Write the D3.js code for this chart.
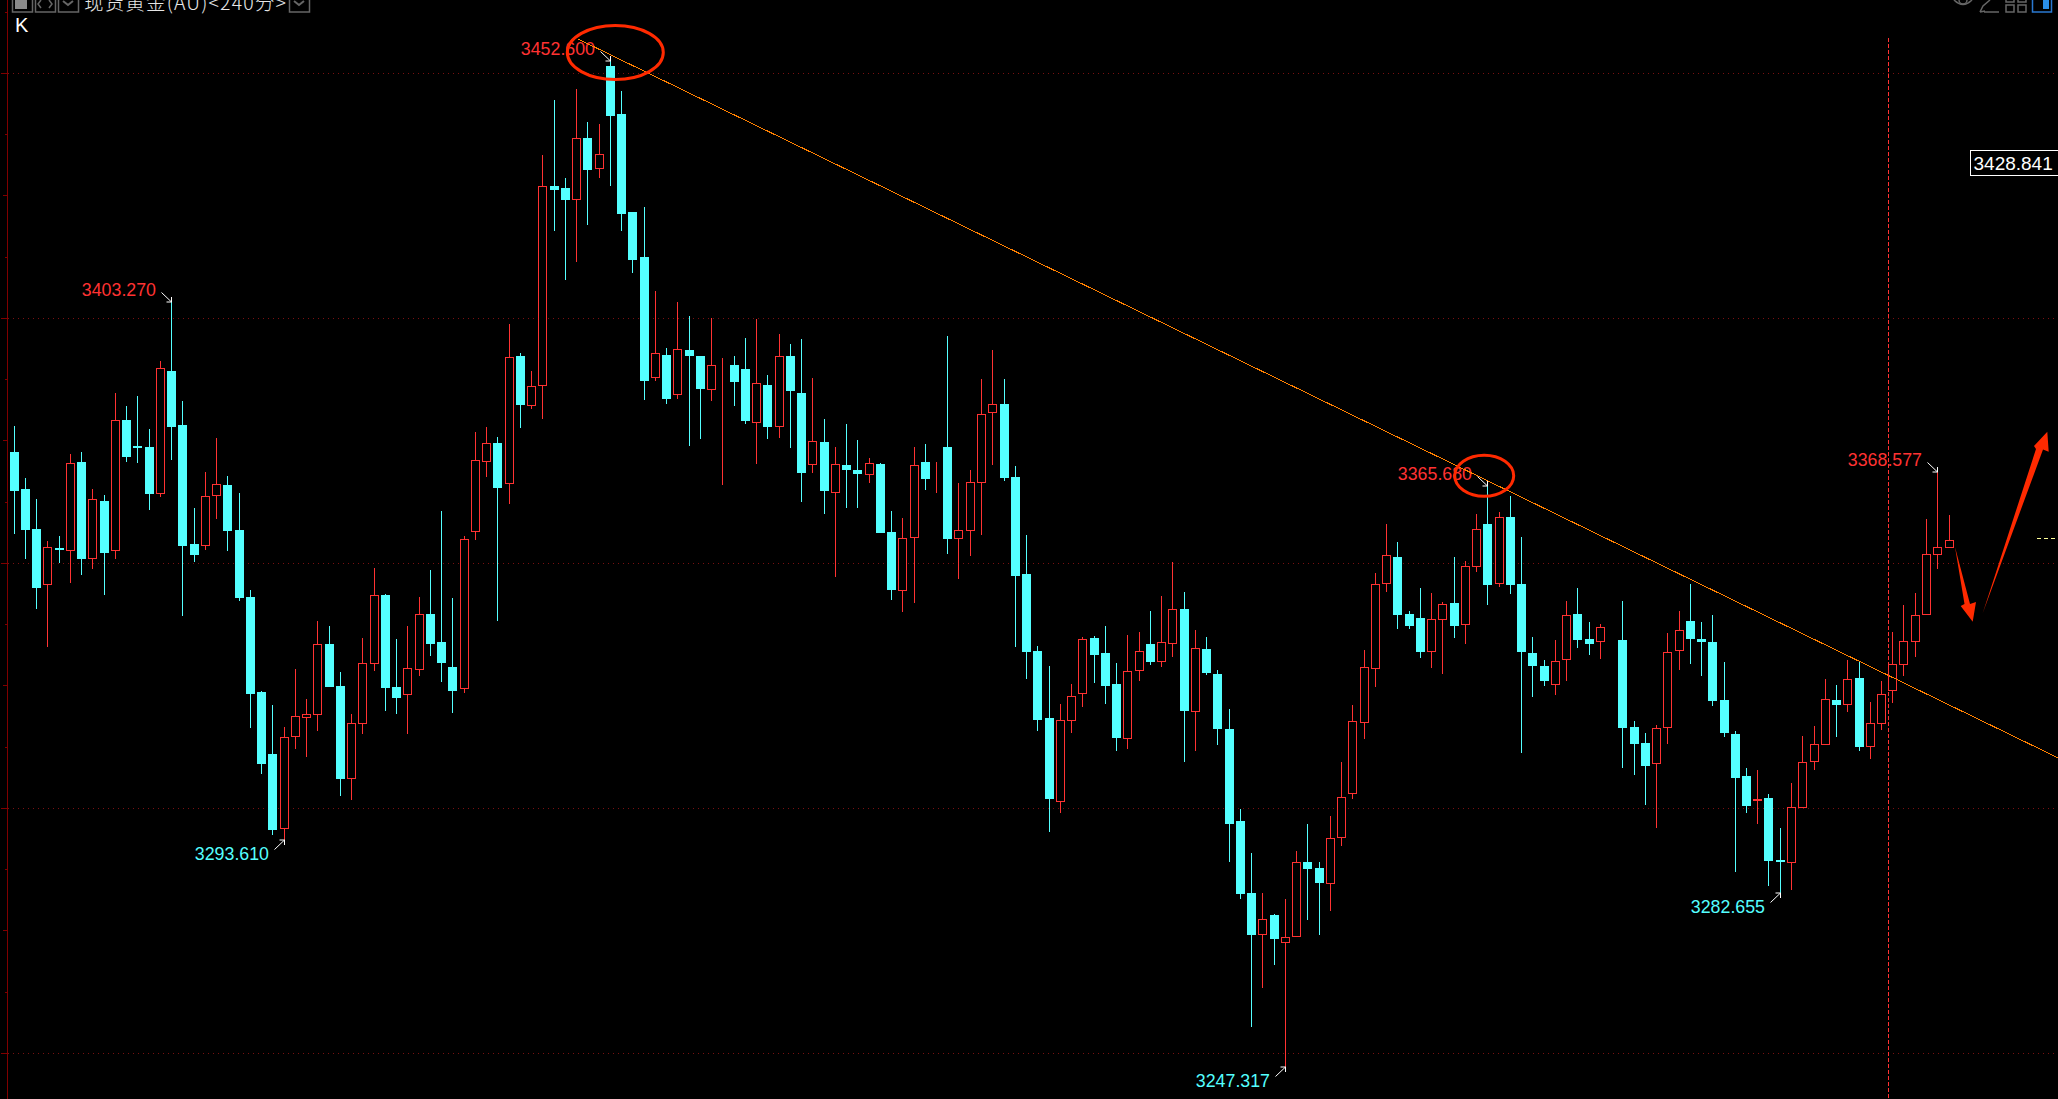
<!DOCTYPE html>
<html lang="zh">
<head>
<meta charset="UTF-8">
<title>现货黄金(AU) 240分</title>
<script src="https://d3js.org/d3.v7.min.js"></script>
<style>
    html, body { margin: 0; padding: 0; background: #000; overflow: hidden; }
    svg { display: block; }
    .mark-label { font-family: "Liberation Sans", Arial, sans-serif; font-size: 17.8px; }
</style>
</head>
<body>
<svg id="chart" width="2058" height="1099"></svg>
<script>
// candles, index 0..172
const opens = [
    3372.7,3365.2,3357.0,3345.6,3353.1,3352.5,3370.7,3350.9,3362.7,3352.5,
    3379.2,3373.9,3373.7,3364.1,3389.2,3378.2,3353.9,3353.5,3363.7,3366.0,
    3356.8,3343.1,3323.7,3311.1,3295.8,3314.6,3318.4,3319.0,3333.5,3325.0,
    3306.0,3317.2,3329.4,3343.5,3324.8,3323.1,3328.2,3339.7,3333.9,3328.8,
    3324.3,3356.4,3370.7,3374.6,3366.2,3392.3,3382.1,3386.2,3427.0,3426.6,
    3424.1,3436.8,3430.5,3451.5,3441.7,3421.7,3412.5,3387.8,3392.5,3384.3,
    3393.5,3392.3,3385.4,3390.3,3390.5,3389.7,3378.6,3386.4,3377.8,3392.3,
    3384.8,3370.1,3374.8,3364.3,3370.1,3369.0,3368.0,3370.3,3356.4,3344.3,
    3355.2,3370.7,3367.6,3373.7,3355.0,3356.6,3366.4,3380.7,3382.5,3367.6,
    3347.8,3332.1,3318.4,3301.3,3317.8,3323.3,3334.8,3331.7,3325.4,3314.1,
    3328.0,3333.5,3329.9,3333.5,3340.7,3319.7,3332.5,3327.4,3316.2,3297.4,
    3282.7,3274.1,3278.2,3272.5,3273.7,3289.0,3287.8,3284.6,3293.9,3302.9,
    3317.4,3328.4,3345.8,3351.3,3339.7,3338.8,3331.9,3338.4,3341.9,3337.4,
    3349.3,3358.0,3345.8,3359.5,3345.8,3331.7,3329.0,3325.2,3330.3,3339.7,
    3334.6,3333.9,3337.0,3334.3,3316.6,3313.3,3309.0,3316.4,3332.1,3338.2,
    3334.6,3333.9,3322.1,3315.2,3306.6,3301.5,3302.1,3289.5,3288.8,3300.1,
    3309.5,3312.9,3322.1,3321.1,3326.6,3312.5,3317.2,3323.9,3329.2,3333.9,
    3339.4,3351.7,3353.1
];
const closes = [
    3364.8,3356.8,3345.0,3353.3,3352.7,3370.5,3350.9,3363.1,3352.1,3379.2,
    3371.7,3373.5,3364.1,3389.9,3377.8,3353.5,3351.7,3363.7,3366.2,3356.6,
    3342.9,3323.3,3309.0,3295.6,3314.6,3318.8,3319.2,3333.5,3324.8,3306.0,
    3317.4,3329.7,3343.5,3324.6,3322.5,3328.6,3339.7,3333.5,3329.7,3323.9,
    3355.0,3371.1,3374.6,3365.4,3392.1,3382.3,3386.2,3427.0,3426.2,3424.1,
    3436.8,3430.3,3433.5,3441.3,3421.3,3411.9,3387.2,3392.9,3383.5,3393.7,
    3392.3,3385.6,3390.5,3390.3,3387.0,3379.0,3386.8,3377.8,3392.3,3385.2,
    3368.4,3375.0,3364.8,3370.3,3369.0,3368.2,3370.5,3356.2,3344.6,3355.2,
    3370.1,3367.2,3367.6,3355.0,3356.8,3366.6,3380.5,3382.5,3367.4,3347.4,
    3331.9,3318.0,3301.9,3318.0,3322.9,3334.6,3331.3,3325.0,3314.3,3328.0,
    3332.1,3329.9,3333.9,3340.7,3319.9,3332.7,3327.6,3316.2,3296.8,3282.5,
    3274.1,3277.4,3273.3,3273.7,3289.0,3287.6,3284.8,3293.9,3302.3,3317.8,
    3328.8,3345.8,3351.7,3339.4,3337.2,3331.9,3338.6,3341.7,3337.2,3349.5,
    3357.0,3345.6,3359.5,3345.6,3331.9,3329.0,3326.0,3330.1,3339.4,3334.3,
    3333.5,3337.0,3337.0,3316.4,3313.1,3308.6,3316.4,3331.9,3336.4,3334.6,
    3333.9,3321.9,3315.4,3306.2,3300.5,3301.9,3289.2,3289.0,3300.3,3309.5,
    3313.1,3322.3,3321.1,3326.4,3312.5,3317.4,3323.3,3329.4,3334.1,3339.4,
    3351.9,3353.3,3354.8
];
const highs = [
    3378.0,3367.4,3363.1,3354.6,3355.6,3372.3,3372.7,3365.2,3363.9,3384.8,
    3382.1,3384.1,3377.4,3391.3,3403.3,3383.1,3361.3,3368.6,3375.6,3367.8,
    3364.3,3344.6,3323.9,3321.1,3316.6,3328.4,3322.3,3338.2,3337.2,3327.8,
    3319.2,3334.8,3349.0,3343.7,3334.6,3337.2,3343.1,3348.6,3360.7,3342.9,
    3355.6,3376.8,3377.8,3375.8,3398.8,3392.9,3389.2,3433.3,3444.6,3428.6,
    3446.8,3440.1,3439.7,3452.6,3446.4,3421.7,3422.7,3405.6,3393.9,3403.3,
    3400.5,3392.3,3400.1,3391.9,3392.3,3396.0,3399.9,3388.4,3396.8,3394.8,
    3395.8,3387.8,3379.5,3373.7,3378.4,3375.2,3371.5,3370.5,3360.7,3359.2,
    3373.7,3374.3,3370.7,3396.4,3366.4,3369.0,3387.6,3393.5,3387.6,3369.9,
    3355.8,3333.1,3329.0,3321.3,3325.4,3335.0,3335.2,3337.2,3329.7,3335.4,
    3336.0,3340.3,3343.3,3350.3,3344.1,3336.4,3335.0,3328.2,3320.3,3299.9,
    3290.9,3282.7,3278.4,3281.5,3291.3,3296.8,3289.0,3298.4,3309.5,3321.1,
    3332.3,3348.0,3358.0,3354.3,3340.3,3345.0,3343.9,3342.1,3351.3,3350.5,
    3360.1,3365.7,3360.5,3363.7,3355.4,3335.0,3330.3,3334.3,3342.3,3345.0,
    3338.0,3337.6,3337.0,3342.3,3317.8,3315.4,3317.0,3335.8,3340.3,3345.8,
    3338.0,3339.4,3329.9,3315.8,3308.2,3307.8,3302.9,3296.0,3305.2,3314.8,
    3316.8,3326.4,3325.2,3330.3,3330.1,3321.7,3326.0,3336.0,3341.5,3343.9,
    3359.0,3368.6,3359.9
];
const lows = [
    3356.0,3350.9,3340.7,3332.9,3350.1,3346.0,3347.6,3348.8,3343.5,3350.9,
    3370.7,3370.5,3360.9,3363.5,3371.1,3339.2,3350.3,3352.7,3359.0,3352.5,
    3342.3,3316.4,3307.0,3294.6,3293.6,3312.1,3310.5,3315.8,3324.8,3302.5,
    3301.7,3315.2,3328.0,3319.9,3319.2,3315.2,3327.0,3331.1,3325.8,3319.4,
    3323.5,3354.8,3367.6,3338.2,3362.1,3377.6,3381.5,3379.5,3417.8,3407.8,
    3411.5,3419.0,3428.6,3427.0,3417.8,3409.2,3383.3,3387.2,3382.5,3383.5,
    3373.9,3375.4,3383.1,3366.0,3382.1,3378.4,3370.3,3375.4,3375.6,3373.5,
    3362.5,3368.4,3360.1,3347.2,3361.3,3361.3,3366.4,3356.2,3342.5,3340.1,
    3341.9,3365.0,3364.3,3351.9,3346.8,3351.5,3355.8,3370.1,3366.8,3332.9,
    3326.4,3315.8,3295.2,3299.0,3315.4,3320.7,3325.6,3321.3,3311.7,3312.1,
    3326.0,3329.2,3328.8,3330.9,3309.5,3311.7,3327.2,3312.9,3289.0,3281.5,
    3255.4,3263.3,3268.0,3247.3,3273.7,3277.2,3274.1,3279.0,3292.3,3301.9,
    3314.1,3324.8,3344.1,3336.6,3336.6,3330.7,3328.6,3327.4,3334.8,3333.5,
    3348.2,3341.5,3345.2,3343.7,3311.3,3322.7,3325.0,3323.1,3326.0,3332.7,
    3331.3,3330.5,3337.0,3308.2,3306.8,3300.7,3296.0,3313.1,3328.2,3329.4,
    3327.0,3320.9,3314.6,3287.0,3299.0,3296.8,3284.1,3282.7,3283.3,3300.1,
    3307.8,3312.9,3314.6,3319.7,3311.7,3310.1,3316.0,3321.5,3327.0,3330.9,
    3339.4,3348.8,3353.1
];

// flagged extremes
const markIndex = [14, 24, 53, 113, 131, 157, 171];
const markText = ["3403.270", "3293.610", "3452.600", "3247.317", "3365.680", "3282.655", "3368.577"];
const markIsHigh = [true, false, true, false, true, false, true];

const gridPrices = [3250, 3300, 3350, 3400, 3450];
const axisTicks = d3.range(3237.5, 3475, 12.5);
const trendIndex = [50.13, 181.69];
const trendPrice = [3457.0, 3310.3];
const lastPrice = "3428.841";

const RED = "#ff3232";
const CYAN = "#54ffff";
const ORANGE = "#ff8000";
const PEN = "#ff2a00";
const GRAY = "#666";

const width = 2058;
const height = 1099;

const svg = d3.select("#chart");

svg.append("rect").attr("width", width).attr("height", height).attr("fill", "#000");

const x = d3.scaleLinear().domain([0, opens.length - 1]).range([14, 1949]);
const y = d3.scaleLinear().domain([3250, 3450]).range([1053.3, 73.3]);
const px = i => Math.floor(x(i));
const py = v => Math.round(y(v));

// grid
svg.append("g").selectAll("line")
    .data(gridPrices)
    .join("line")
    .attr("x1", 8).attr("x2", width)
    .attr("y1", d => Math.floor(y(d)) + 0.5)
    .attr("y2", d => Math.floor(y(d)) + 0.5)
    .attr("stroke", "#7a1010")
    .attr("stroke-dasharray", "1,4");

// left axis with three tick lengths
const tickLen = d => d % 50 === 0 ? 6 : (d % 25 === 0 ? 4 : 2);
const axis = svg.append("g").attr("shape-rendering", "crispEdges");
axis.append("line")
    .attr("x1", 7.5).attr("x2", 7.5).attr("y1", 0).attr("y2", height)
    .attr("stroke", "#800000");
axis.selectAll(".tick")
    .data(axisTicks)
    .join("line")
    .attr("class", "tick")
    .attr("x1", d => 7 - tickLen(d)).attr("x2", 7)
    .attr("y1", d => Math.floor(y(d)) + 0.5)
    .attr("y2", d => Math.floor(y(d)) + 0.5)
    .attr("stroke", "#800000");

// candles
const candles = svg.append("g").attr("shape-rendering", "crispEdges");
const candleData = opens.map((o, i) => ({ i, o, c: closes[i], h: highs[i], l: lows[i] }));
const isUp = d => d.c >= d.o;

candles.selectAll(".wick")
    .data(candleData)
    .join("line")
    .attr("class", "wick")
    .attr("x1", d => px(d.i) + 0.5).attr("x2", d => px(d.i) + 0.5)
    .attr("y1", d => py(d.h)).attr("y2", d => py(d.l))
    .attr("stroke", d => isUp(d) ? RED : CYAN);

candles.selectAll(".down")
    .data(candleData.filter(d => !isUp(d)))
    .join("rect")
    .attr("class", "down")
    .attr("x", d => px(d.i) - 4)
    .attr("y", d => py(d.o))
    .attr("width", 9)
    .attr("height", d => Math.max(2, py(d.c) - py(d.o)))
    .attr("fill", CYAN);

// hollow up candles: black inside hides the wick
candles.selectAll(".up")
    .data(candleData.filter(isUp))
    .join("rect")
    .attr("class", "up")
    .attr("x", d => px(d.i) - 3.5)
    .attr("y", d => py(d.c) + 0.5)
    .attr("width", 8)
    .attr("height", d => Math.max(0, py(d.o) - py(d.c) - 1))
    .attr("fill", "#000")
    .attr("stroke", RED);

// labels with small white arrows
const marks = svg.append("g");
markIndex.forEach((idx, k) => {
    const up = markIsHigh[k];
    const tipX = px(idx) + 0.5;
    const tipY = py(up ? highs[idx] : lows[idx]);
    const dir = up ? -1 : 1;
    marks.append("text")
        .attr("class", "mark-label")
        .attr("x", tipX - 15.5)
        .attr("y", tipY + (up ? -6.3 : 19.5))
        .attr("text-anchor", "end")
        .attr("fill", up ? RED : CYAN)
        .text(markText[k]);
    marks.append("path")
        .attr("d", `M${tipX - 10},${tipY + dir * 9.5}L${tipX},${tipY}M${tipX - 5},${tipY}H${tipX}V${tipY + dir * 5}`)
        .attr("fill", "none")
        .attr("stroke", "#fff")
        .attr("stroke-width", 1);
});

// trend line
svg.append("line")
    .attr("x1", x(trendIndex[0])).attr("y1", y(trendPrice[0]))
    .attr("x2", x(trendIndex[1])).attr("y2", y(trendPrice[1]))
    .attr("stroke", ORANGE)
    .attr("shape-rendering", "crispEdges");

// vertical dashed cursor
svg.append("line")
    .attr("x1", 1888.5).attr("x2", 1888.5).attr("y1", 38).attr("y2", height)
    .attr("stroke", "#ff3232")
    .attr("stroke-dasharray", "4,2")
    .attr("shape-rendering", "crispEdges");

// hand drawn circles and arrows
svg.append("ellipse")
    .attr("cx", 615.3).attr("cy", 52.5).attr("rx", 48).attr("ry", 27)
    .attr("fill", "none").attr("stroke", PEN).attr("stroke-width", 3);
svg.append("ellipse")
    .attr("cx", 1484.2).attr("cy", 475.8).attr("rx", 29.5).attr("ry", 20.5)
    .attr("fill", "none").attr("stroke", PEN).attr("stroke-width", 3);
svg.append("polygon")
    .attr("points", "1955,547 1970,604 1976,602 1972.7,621.7 1960.7,606 1964.5,604")
    .attr("fill", PEN);
svg.append("polygon")
    .attr("points", "1982.7,613.3 2036,449 2034,446 2047.3,431.7 2048.7,451.7 2043,449.5")
    .attr("fill", PEN);

// last price box and the small yellow dash
svg.append("rect")
    .attr("x", 1970.5).attr("y", 150.5).attr("width", 95).attr("height", 25)
    .attr("fill", "#000").attr("stroke", "#fff");
svg.append("text")
    .attr("x", 1973.5).attr("y", 170)
    .attr("font-family", "Liberation Sans, Arial, sans-serif")
    .attr("font-size", 19)
    .attr("fill", "#fff")
    .text(lastPrice);
svg.append("line")
    .attr("x1", 2037).attr("x2", width).attr("y1", 538.5).attr("y2", 538.5)
    .attr("stroke", "#ffff99")
    .attr("stroke-dasharray", "4,3");

// top toolbar, cut off by the top edge in the screenshot
const bar = svg.append("g").attr("fill", "none").attr("stroke", GRAY);
[12, 35, 58, 289].forEach(bx => {
    bar.append("rect").attr("x", bx + 0.5).attr("y", -6).attr("width", 20).attr("height", 18).attr("stroke-width", 1.5);
});
bar.append("rect").attr("x", 15).attr("y", 0).attr("width", 12).attr("height", 9).attr("fill", "#8a8a8a").attr("stroke", "none");
bar.append("path").attr("d", "M41,0L38,4L41,8M49,0L52,4L49,8").attr("stroke-width", 1.5);
bar.append("path").attr("d", "M63,1L68,5L73,1").attr("stroke-width", 2);
bar.append("path").attr("d", "M294,1L299,5L304,1").attr("stroke-width", 2);

svg.append("text")
    .attr("x", 84).attr("y", 9.5)
    .attr("font-family", "Noto Sans CJK SC, sans-serif")
    .attr("font-size", 19.5)
    .attr("font-weight", 300)
    .attr("fill", "#e6e6e6")
    .attr("textLength", 202)
    .attr("lengthAdjust", "spacing")
    .text("现货黄金(AU)<240分>");

svg.append("text")
    .attr("x", 15).attr("y", 32)
    .attr("font-family", "Liberation Sans, Arial, sans-serif")
    .attr("font-size", 20)
    .attr("fill", "#fff")
    .text("K");

// right side toolbar icons
const tools = svg.append("g").attr("fill", "none").attr("stroke", GRAY).attr("stroke-width", 1.5);
tools.append("path").attr("d", "M1954,0Q1963,9 1972,0");
tools.append("circle").attr("cx", 1963).attr("cy", 0).attr("r", 4);
tools.append("path").attr("d", "M1980,12L1983,6L1990,0M1984,12H1999M1980,12L1985,11");
tools.append("path").attr("d", "M2006,-3h8v5h-8zM2018,-3h8v5h-8zM2006,5h8v7h-8zM2018,5h8v7h-8z");
tools.append("rect").attr("x", 2032.5).attr("y", -4).attr("width", 19).attr("height", 16).attr("stroke", "#2a78d0");
tools.append("rect").attr("x", 2043).attr("y", 0).attr("width", 6).attr("height", 9).attr("fill", "#2a8fe8").attr("stroke", "none");
</script>
</body>
</html>
